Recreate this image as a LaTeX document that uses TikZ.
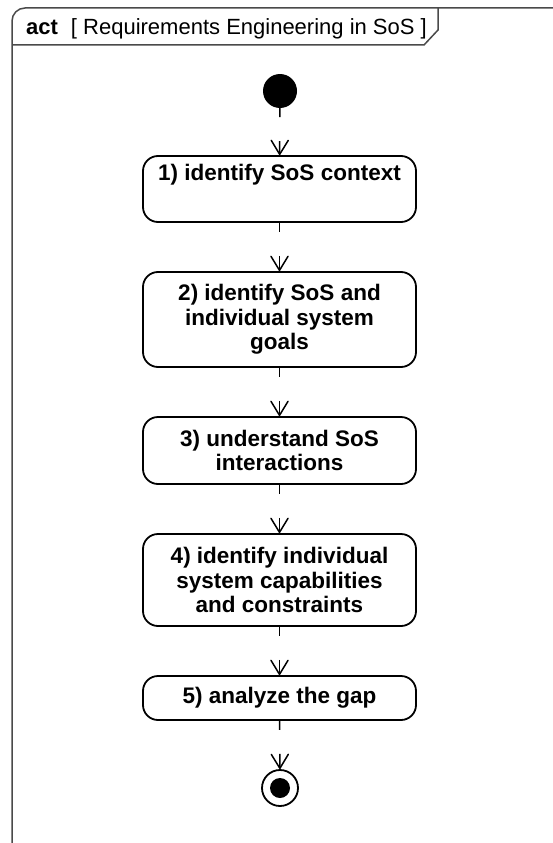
\documentclass[tikz,border=0pt]{standalone}
\usepackage{fontspec}
\setmainfont{Liberation Sans}
\usetikzlibrary{arrows.meta}
\definecolor{framegray}{HTML}{4A4A4A}
\begin{document}
\begin{tikzpicture}[x=1pt, y=-1pt,
  actbox/.style={draw=black, line width=1.8pt, rounded corners=15pt,
    minimum width=273pt, inner sep=0pt, align=center,
    font=\fontsize{22.5}{24.5}\selectfont\bfseries},
  flow/.style={draw=black, line width=1.5pt,
    dash pattern=on 9pt off 24pt on 80pt,
    -{Straight Barb[length=14pt, width=17pt, round]}},
  initial/.style={circle, fill=black, minimum size=34pt, inner sep=0pt},
  final/.style={circle, draw=black, line width=1.8pt, minimum size=36pt,
    inner sep=0pt,
    path picture={\fill[black] (path picture bounding box.center) circle (10pt);}},
  frameline/.style={draw=framegray, line width=1.5pt}
]
\useasboundingbox (0,0) rectangle (553,843);

% diagram frame, running past the right and bottom edges
\begin{scope}
  \clip (0,0) rectangle (553,843);
  \draw[frameline, rounded corners=13pt] (12,8) rectangle (590,890);
\end{scope}
% name tab
\draw[frameline] (12,45) -- (424,45) -- (438,30) -- (438,8);
\node[anchor=base west, inner sep=0pt, font=\fontsize{22}{24}\selectfont]
  (title) at (26,35) {\textbf{act}\hspace{13pt}[ Requirements Engineering in SoS ]};

% nodes
\node[initial] (start) at (280,91) {};
\node[actbox, minimum height=66pt, text height=17pt, text depth=35pt]
  (a1) at (279.5,189) {1) identify SoS context};
\node[actbox, minimum height=95pt]
  (a2) at (279.5,319.5) {2) identify SoS and\\individual system\\goals};
\node[actbox, minimum height=67pt]
  (a3) at (279.5,450.5) {3) understand SoS\\interactions};
\node[actbox, minimum height=92pt]
  (a4) at (279.5,580) {4) identify individual\\system capabilities\\and constraints};
\node[actbox, minimum height=44pt]
  (a5) at (279.5,698) {5) analyze the gap};
\node[final] (end) at (280,788) {};

% control flows
\draw[flow] (start) -- (a1);
\draw[flow] (a1) -- (a2);
\draw[flow] (a2) -- (a3);
\draw[flow] (a3) -- (a4);
\draw[flow] (a4) -- (a5);
\draw[flow] (a5) -- (end);
\end{tikzpicture}
\end{document}
